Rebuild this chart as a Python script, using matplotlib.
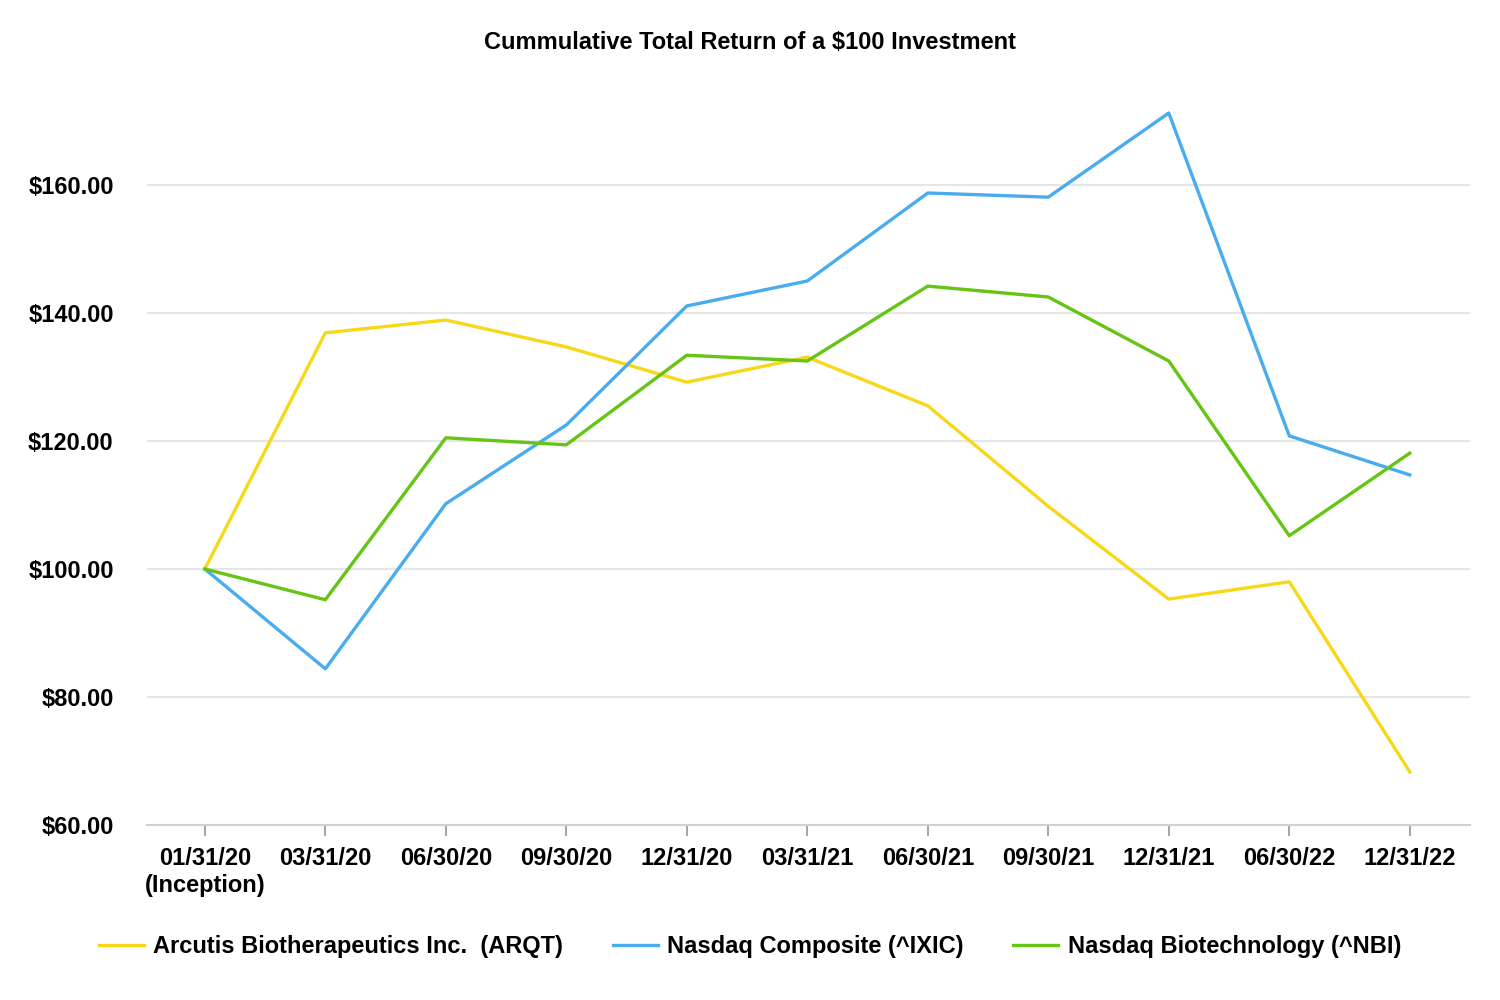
import numpy as np
import matplotlib.pyplot as plt

plt.rcParams['font.family'] = ['Liberation Sans', 'DejaVu Sans']

dates = ["01/31/20\n(Inception)", "03/31/20", "06/30/20", "09/30/20", "12/31/20",
         "03/31/21", "06/30/21", "09/30/21", "12/31/21", "06/30/22", "12/31/22"]
arqt = [100.0, 136.9, 138.9, 134.7, 129.2, 133.1, 125.5, 109.8, 95.3, 98.0, 68.3]
ixic = [100.0, 84.4, 110.2, 122.5, 141.1, 145.0, 158.75, 158.1, 171.25, 120.8, 114.7]
nbi = [100.0, 95.2, 120.5, 119.4, 133.4, 132.5, 144.2, 142.5, 132.5, 105.2, 118.1]

names = ["Arcutis Biotherapeutics Inc.  (ARQT)", "Nasdaq Composite (^IXIC)",
         "Nasdaq Biotechnology (^NBI)"]
colors = ["#F7D818", "#48ACEF", "#66C414"]
yticks = [60, 80, 100, 120, 140, 160]

fig = plt.figure(figsize=(15, 10), dpi=100)
ax = fig.add_axes([0.098, 0.175, 0.882, 0.736])

x = np.arange(len(dates))
for series, name, c in zip([arqt, ixic, nbi], names, colors):
    ax.plot(x, series, color=c, linewidth=2.4, label=name)

ax.set_xlim(-0.48, 10.5)
ax.set_ylim(60, 175)
ax.set_yticks(yticks)
ax.set_yticklabels(["${:.2f}".format(v) for v in yticks])
ax.set_xticks(x)
ax.set_xticklabels(dates)

ax.grid(axis='y', color='#e6e6e6', linewidth=1.5)
ax.set_axisbelow(True)
for s in ['top', 'right', 'left']:
    ax.spines[s].set_visible(False)
ax.spines['bottom'].set_color('#d0d0d0')
ax.spines['bottom'].set_linewidth(1.5)

ax.tick_params(axis='y', length=0, pad=24, labelsize=17)
ax.tick_params(axis='x', length=8, width=1.5, color='#a8a8a8', pad=8, labelsize=17)
for lbl in ax.get_xticklabels() + ax.get_yticklabels():
    lbl.set_fontweight('bold')

fig.suptitle("Cummulative Total Return of a $100 Investment", x=0.5, y=0.969,
             fontsize=17, fontweight='bold')

fig.legend(loc='center', bbox_to_anchor=(0.5, 0.053), ncol=3, frameon=False,
           prop={'weight': 'bold', 'size': 17}, handlelength=1.9,
           handletextpad=0.4, columnspacing=2.1)

fig.savefig("out.png", dpi=100)
